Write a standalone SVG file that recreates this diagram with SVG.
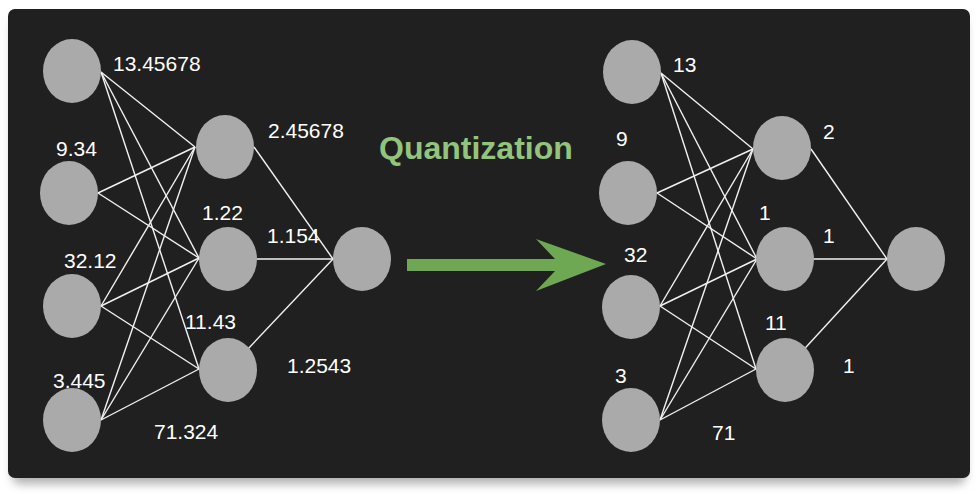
<svg xmlns="http://www.w3.org/2000/svg" width="976" height="494" viewBox="0 0 976 494">
  <defs>
    <filter id="shadow" x="-5%" y="-5%" width="110%" height="115%">
      <feGaussianBlur stdDeviation="5"/>
    </filter>
    <style>
      .node { fill: #aaaaaa; }
      .edge { stroke: #f2f2f2; stroke-width: 1.4; fill: none; }
      .lbl { font-family: "Liberation Sans", Arial, sans-serif; font-size: 21px; fill: #ffffff; }
      .title { font-family: "Liberation Sans", Arial, sans-serif; font-size: 32px; font-weight: bold; fill: #93c47d; }
    </style>
  </defs>
  <rect x="0" y="0" width="976" height="494" fill="#ffffff"/>
  <rect x="12" y="18" width="954" height="466" rx="8" fill="#b0b0b0" filter="url(#shadow)"/>
  <rect x="8" y="9" width="962" height="469" rx="7" fill="#202020"/>

  <g id="connectors">
    <!-- left network -->
    <line class="edge" x1="101" y1="72" x2="195" y2="147"/>
    <line class="edge" x1="101" y1="72" x2="199" y2="258"/>
    <line class="edge" x1="101" y1="72" x2="199" y2="369"/>
    <line class="edge" x1="98" y1="193" x2="195" y2="147"/>
    <line class="edge" x1="98" y1="193" x2="199" y2="258"/>
    <line class="edge" x1="101" y1="306" x2="195" y2="147"/>
    <line class="edge" x1="101" y1="306" x2="199" y2="258"/>
    <line class="edge" x1="101" y1="306" x2="199" y2="369"/>
    <line class="edge" x1="101" y1="420" x2="195" y2="147"/>
    <line class="edge" x1="101" y1="420" x2="199" y2="258"/>
    <line class="edge" x1="101" y1="420" x2="199" y2="369"/>
    <line class="edge" x1="254" y1="147" x2="333" y2="259"/>
    <line class="edge" x1="257" y1="259" x2="333" y2="259"/>
    <line class="edge" x1="228" y1="370" x2="333" y2="259"/>
    <!-- right network -->
    <line class="edge" x1="661" y1="73" x2="753" y2="149"/>
    <line class="edge" x1="661" y1="73" x2="757" y2="259"/>
    <line class="edge" x1="661" y1="73" x2="756" y2="369"/>
    <line class="edge" x1="657" y1="193" x2="753" y2="149"/>
    <line class="edge" x1="657" y1="193" x2="757" y2="259"/>
    <line class="edge" x1="660" y1="306" x2="753" y2="149"/>
    <line class="edge" x1="660" y1="306" x2="757" y2="259"/>
    <line class="edge" x1="660" y1="306" x2="756" y2="369"/>
    <line class="edge" x1="660" y1="420" x2="753" y2="149"/>
    <line class="edge" x1="660" y1="420" x2="757" y2="259"/>
    <line class="edge" x1="660" y1="420" x2="756" y2="369"/>
    <line class="edge" x1="811" y1="149" x2="887" y2="259"/>
    <line class="edge" x1="813" y1="259" x2="887" y2="259"/>
    <line class="edge" x1="785" y1="370" x2="887" y2="259"/>
  </g>

  <!-- left network nodes -->
  <g id="L_in1"><ellipse class="node" cx="72" cy="71" rx="29" ry="32"/></g>
  <g id="L_in2"><ellipse class="node" cx="69" cy="193" rx="29" ry="32"/></g>
  <g id="L_in3"><ellipse class="node" cx="72" cy="306" rx="29" ry="32"/></g>
  <g id="L_in4"><ellipse class="node" cx="72" cy="420" rx="29" ry="32"/></g>
  <g id="L_h1"><ellipse class="node" cx="225" cy="147" rx="29" ry="32"/></g>
  <g id="L_h2"><ellipse class="node" cx="228" cy="259" rx="29" ry="32"/></g>
  <g id="L_h3"><ellipse class="node" cx="228" cy="370" rx="29" ry="32"/></g>
  <g id="L_out"><ellipse class="node" cx="362" cy="259" rx="29" ry="32"/></g>

  <!-- right network nodes -->
  <g id="R_in1"><ellipse class="node" cx="632" cy="72" rx="29" ry="32"/></g>
  <g id="R_in2"><ellipse class="node" cx="628" cy="193" rx="29" ry="32"/></g>
  <g id="R_in3"><ellipse class="node" cx="631" cy="307" rx="29" ry="32"/></g>
  <g id="R_in4"><ellipse class="node" cx="631" cy="420" rx="29" ry="32"/></g>
  <g id="R_h1"><ellipse class="node" cx="782" cy="148" rx="29" ry="32"/></g>
  <g id="R_h2"><ellipse class="node" cx="785" cy="259" rx="29" ry="32"/></g>
  <g id="R_h3"><ellipse class="node" cx="785" cy="370" rx="29" ry="32"/></g>
  <g id="R_out"><ellipse class="node" cx="916" cy="259" rx="29" ry="32"/></g>

  <!-- left labels -->
  <g id="L_labels">
    <text class="lbl" x="113" y="71">13.45678</text>
    <text class="lbl" x="56" y="156">9.34</text>
    <text class="lbl" x="268" y="138">2.45678</text>
    <text class="lbl" x="202" y="220">1.22</text>
    <text class="lbl" x="267" y="243">1.154</text>
    <text class="lbl" x="64" y="268">32.12</text>
    <text class="lbl" x="185" y="329">11.43</text>
    <text class="lbl" x="287" y="373">1.2543</text>
    <text class="lbl" x="53" y="388">3.445</text>
    <text class="lbl" x="154" y="439">71.324</text>
  </g>

  <!-- right labels -->
  <g id="R_labels">
    <text class="lbl" x="673" y="72">13</text>
    <text class="lbl" x="616" y="146">9</text>
    <text class="lbl" x="823" y="139">2</text>
    <text class="lbl" x="759" y="220">1</text>
    <text class="lbl" x="823" y="243">1</text>
    <text class="lbl" x="624" y="262">32</text>
    <text class="lbl" x="765" y="330">11</text>
    <text class="lbl" x="843" y="373">1</text>
    <text class="lbl" x="615" y="383">3</text>
    <text class="lbl" x="712" y="440">71</text>
  </g>

  <!-- quantization arrow -->
  <g id="quantization">
    <text class="title" x="379" y="159">Quantization</text>
    <polygon points="407,259 555,259 536,239 606,264 536,291 555,271 407,271" fill="#6fa852"/>
  </g>
</svg>
